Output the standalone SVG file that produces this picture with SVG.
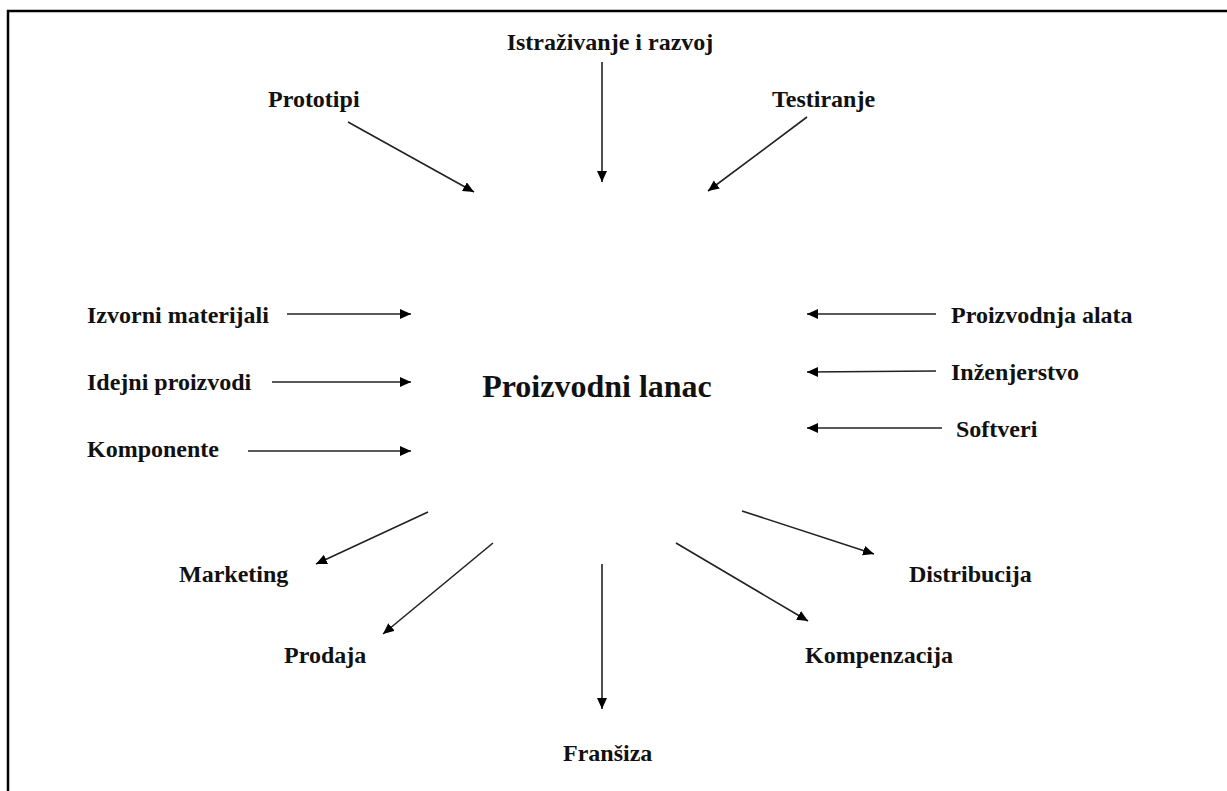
<svg xmlns="http://www.w3.org/2000/svg" width="1227" height="791" viewBox="0 0 1227 791">
<defs>
<marker id="ah" markerUnits="userSpaceOnUse" markerWidth="12" markerHeight="11" refX="11" refY="5" orient="auto">
<path d="M0,0 L11,5 L0,10 Z" fill="#000"/>
</marker>
<style>
.lbl{font-family:"Liberation Serif","Times New Roman",serif;font-weight:bold;font-size:24px;fill:#111;}
.title{font-family:"Liberation Serif","Times New Roman",serif;font-weight:bold;font-size:32px;fill:#111;}
.c{stroke:#222;stroke-width:1.6;fill:none;marker-end:url(#ah);}
</style>
</defs>
<rect width="1227" height="791" fill="#fff"/>
<path d="M8,791 L8,11 L1227,11" stroke="#000" stroke-width="2.5" fill="none"/>
<g id="center"><text class="title" x="597" y="397" text-anchor="middle">Proizvodni lanac</text></g>
<g id="n-istrazivanje"><text class="lbl" x="610" y="50" text-anchor="middle">Istraživanje i razvoj</text></g>
<g id="n-prototipi"><text class="lbl" x="268" y="107">Prototipi</text></g>
<g id="n-testiranje"><text class="lbl" x="772" y="107">Testiranje</text></g>
<g id="n-izvorni"><text class="lbl" x="87" y="323">Izvorni materijali</text></g>
<g id="n-idejni"><text class="lbl" x="87" y="390">Idejni proizvodi</text></g>
<g id="n-komponente"><text class="lbl" x="87" y="457">Komponente</text></g>
<g id="n-alati"><text class="lbl" x="951" y="323">Proizvodnja alata</text></g>
<g id="n-inzenjerstvo"><text class="lbl" x="951" y="380">Inženjerstvo</text></g>
<g id="n-softveri"><text class="lbl" x="956" y="437">Softveri</text></g>
<g id="n-marketing"><text class="lbl" x="179" y="582">Marketing</text></g>
<g id="n-prodaja"><text class="lbl" x="284" y="663">Prodaja</text></g>
<g id="n-fransiza"><text class="lbl" x="563" y="761">Franšiza</text></g>
<g id="n-kompenzacija"><text class="lbl" x="805" y="663">Kompenzacija</text></g>
<g id="n-distribucija"><text class="lbl" x="909" y="582">Distribucija</text></g>
<g id="connectors">
<line class="c" x1="602" y1="62" x2="602" y2="182"/>
<line class="c" x1="348" y1="122" x2="474" y2="192"/>
<line class="c" x1="807" y1="117" x2="708" y2="191"/>
<line class="c" x1="287" y1="314" x2="411" y2="314"/>
<line class="c" x1="272" y1="382" x2="411" y2="382"/>
<line class="c" x1="248" y1="451" x2="411" y2="451"/>
<line class="c" x1="936" y1="314" x2="807" y2="314"/>
<line class="c" x1="936" y1="371" x2="807" y2="372"/>
<line class="c" x1="942" y1="428" x2="807" y2="428"/>
<line class="c" x1="428" y1="512" x2="316" y2="564"/>
<line class="c" x1="493" y1="543" x2="383" y2="634"/>
<line class="c" x1="602" y1="564" x2="602" y2="709"/>
<line class="c" x1="676" y1="543" x2="808" y2="621"/>
<line class="c" x1="742" y1="511" x2="874" y2="554"/>
</g>
</svg>
